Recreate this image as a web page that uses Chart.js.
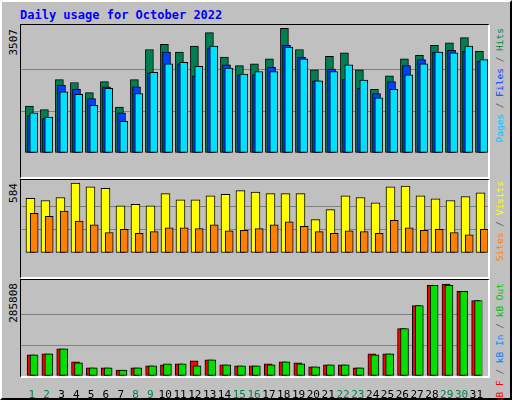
<!DOCTYPE html>
<html>
<head>
<meta charset="utf-8">
<script src="https://cdn.jsdelivr.net/npm/chart.js"></script>
<style>
  body { margin: 0; background: #fff; }
  #frame { position: relative; width: 508px; height: 396px; background: #c0c0c0;
           border: 2px solid #000; border-left-color: #fff; border-top-color: #fff; box-sizing: content-box; }
  .panel { position: absolute; border-top: 1px solid #000; border-left: 1px solid #000;
           border-right: 2px solid #fff; border-bottom: 2px solid #fff; }
  canvas { display: block; }
  .txt { position: absolute; font: 9.5px "DejaVu Sans Mono", monospace; white-space: nowrap; }
  .vl { writing-mode: vertical-rl; transform: rotate(180deg); }
  #title { left: 18px; top: 6px; color: #0000ff; font-weight: bold; font-size: 12px; }
</style>
</head>
<body>
<div id="frame">
  <div class="txt" id="title">Daily usage for October 2022</div>
  <div class="panel" style="left:18px;top:22px;width:467px;height:152px;"><canvas id="c1" width="467" height="152"></canvas></div>
  <div class="panel" style="left:18px;top:177px;width:467px;height:97px;"><canvas id="c2" width="467" height="97"></canvas></div>
  <div class="panel" style="left:18px;top:277px;width:467px;height:96px;"></div>
  <canvas id="c3" width="467" height="120" style="position:absolute;left:19px;top:278px;"></canvas>
  <div class="txt vl" style="left:5px;top:27px;font-size:11px;">3507</div>
  <div class="txt vl" style="left:5px;top:181px;font-size:11px;">584</div>
  <div class="txt vl" style="left:5px;top:281px;font-size:11px;">285808</div>
  <div class="txt vl" style="left:492px;top:26px;"><span style="color:#00c0ff">Pages</span> <span style="color:#606060">/</span> <span style="color:#0040ff">Files</span> <span style="color:#606060">/</span> <span style="color:#008040">Hits</span></div>
  <div class="txt vl" style="left:492px;top:179px;"><span style="color:#ff8000">Sites</span> <span style="color:#606060">/</span> <span style="color:#ffff00">Visits</span></div>
  <div class="txt vl" style="left:492px;top:281px;"><span style="color:#ff0000">kB F</span> <span style="color:#606060">/</span> <span style="color:#0080ff">kB In</span> <span style="color:#606060">/</span> <span style="color:#00c000">kB Out</span></div>
</div>
<script>
const days = Array.from({length: 31}, (_, i) => i + 1);
const weekend = [1, 2, 8, 9, 15, 16, 22, 23, 29, 30];

const hits  = [1317,1222,2063,1984,1698,2007,1293,2063,2912,3055,2840,3007,3388,2698,2460,2507,2650,3507,2912,2341,2721,2817,2341,1793,2174,2650,2745,3031,3102,3245,2864];
const files = [1055,968,1912,1793,1531,1864,1127,1864,2253,2840,2507,2174,2959,2483,2198,2198,2412,3031,2698,2031,2364,2079,1817,1674,2007,2460,2626,2840,2888,2864,2579];
const pages = [1127,1008,1722,1650,1341,1817,889,1674,2269,2507,2555,2436,3007,2388,2222,2293,2293,2983,2650,2031,2293,2483,2055,1555,1793,2198,2507,2840,2817,3007,2626];

const visits = [457,438,463,584,552,540,394,406,394,495,444,444,476,489,521,508,495,495,495,279,362,476,463,419,552,559,476,451,438,470,502];
const sites  = [330,305,349,267,235,171,197,165,178,209,209,203,235,184,190,203,235,260,222,178,165,184,178,165,273,209,190,197,171,152,197];

const kbF   = [65709,68838,84483,43806,25032,25032,18774,25032,31290,34419,37548,46935,50064,34419,31290,31290,37548,43806,40677,28161,34419,34419,25032,68838,68838,147063,219030,281610,285808,262836,234675];
const kbOut = [65709,68838,84483,40677,25032,25032,18774,25032,31290,37548,37548,31290,50064,34419,31290,31290,34419,43806,37548,28161,34419,34419,25032,65709,68838,147063,219030,281610,281610,262836,234675];

Chart.defaults.animation = false;
Chart.defaults.font.family = '"DejaVu Sans Mono", monospace';

function ds(vals, off, color, width, order) {
  return {
    data: days.map((d, i) => ({x: d + off, y: vals[i]})),
    backgroundColor: color, borderColor: '#000', borderWidth: 1,
    borderSkipped: false, barThickness: width, grouped: false, order: order
  };
}

function makeChart(id, sets, labelMax, topMax, showX) {
  return new Chart(document.getElementById(id), {
    type: 'bar',
    data: { datasets: sets },
    options: {
      responsive: false, devicePixelRatio: 1,
      layout: { padding: 0 },
      plugins: { legend: { display: false }, tooltip: { enabled: false } },
      scales: {
        x: {
          type: 'linear', min: 0.27, max: 31.4, offset: false,
          display: showX,
          grid: { display: false }, border: { display: false },
          afterBuildTicks: s => { s.ticks = days.map(d => ({value: d})); },
          afterFit: s => { s.height = 24; },
          ticks: {
            padding: 5, maxRotation: 0, autoSkip: false,
            font: { size: 11 },
            callback: v => String(Math.round(v)),
            color: c => weekend.includes(Math.round(c.tick.value)) ? '#008040' : '#000'
          }
        },
        y: {
          min: 0, max: topMax,
          afterBuildTicks: s => { s.ticks = [0, labelMax / 3, labelMax * 2 / 3].map(v => ({value: v})); },
          afterFit: s => { s.width = 0; },
          ticks: { display: false },
          border: { display: false },
          grid: { drawTicks: false, lineWidth: 1,
                  color: c => c.index === 0 ? 'rgba(0,0,0,0)' : '#808080' }
        }
      }
    }
  });
}

makeChart('c1', [
  ds(hits, -0.17, '#008050', 8, 3),
  ds(files, -0.03, '#0040ff', 8, 2),
  ds(pages, 0.12, '#00e0ff', 8, 1)
], 3507, 3602, false);

makeChart('c2', [
  ds(visits, -0.1, '#ffff00', 9, 2),
  ds(sites, 0.15, '#ff8000', 8, 1)
], 584, 609, false);

makeChart('c3', [
  ds(kbF, -0.05, '#ff0000', 8, 2),
  ds(kbOut, 0.15, '#00e000', 8, 1)
], 285808, 298300, true);
</script>
</body>
</html>
